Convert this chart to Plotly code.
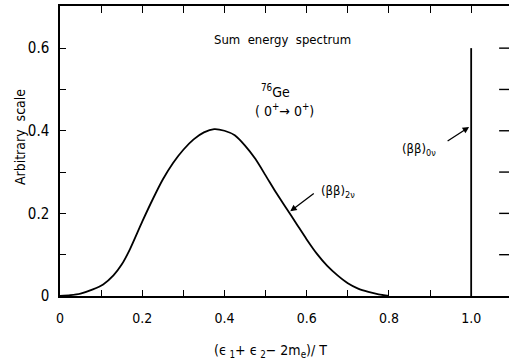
import plotly.graph_objects as go

# 2-neutrino sum energy spectrum
x2nu = [0, 0.025, 0.05, 0.08, 0.105, 0.13, 0.15, 0.17, 0.2, 0.225, 0.25, 0.275, 0.3,
        0.325, 0.35, 0.375, 0.4, 0.425, 0.45, 0.475, 0.5, 0.525, 0.55, 0.575, 0.6,
        0.625, 0.65, 0.675, 0.7, 0.725, 0.75, 0.775, 0.8]
y2nu = [0, 0.002, 0.006, 0.016, 0.028, 0.05, 0.076, 0.113, 0.18, 0.233, 0.282, 0.322, 0.354,
        0.379, 0.396, 0.404, 0.400, 0.389, 0.364, 0.332, 0.292, 0.251, 0.213, 0.175, 0.137,
        0.102, 0.073, 0.050, 0.031, 0.018, 0.010, 0.004, 0.0]
# 0-neutrino line
x0nu = [1.0, 1.0]
y0nu = [0.0, 0.6]

xtick_vals = [0, 0.2, 0.4, 0.6, 0.8, 1.0]
xtick_text = ["0", "0.2", "0.4", "0.6", "0.8", "1.0"]
ytick_vals = [0, 0.2, 0.4, 0.6]
ytick_text = ["0", "0.2", "0.4", "0.6"]
right_tick_vals = [0.1, 0.2, 0.3, 0.4, 0.5, 0.6]
top_tick_vals = [0.1, 0.2, 0.3, 0.4, 0.5, 0.6, 0.7, 0.8, 0.9, 1.0]

XR = [0, 1.092]
YR = [0, 0.702]
FONT = "Liberation Sans Narrow, DejaVu Sans Condensed, Arial Narrow, sans-serif"

fig = go.Figure()
fig.add_trace(go.Scatter(x=x2nu, y=y2nu, mode="lines",
                         line=dict(color="black", width=1.8, shape="spline", smoothing=0.6),
                         showlegend=False, hoverinfo="skip"))
fig.add_trace(go.Scatter(x=x0nu, y=y0nu, mode="lines", line=dict(color="black", width=1.8),
                         showlegend=False, hoverinfo="skip"))
# invisible trace to anchor the top mirror axis
fig.add_trace(go.Scatter(x=[0.5], y=[0.3], xaxis="x2", yaxis="y", mode="markers",
                         marker=dict(opacity=0), showlegend=False, hoverinfo="skip"))

fig.update_layout(
    width=509, height=362,
    margin=dict(l=60, r=0, t=6, b=66),
    plot_bgcolor="white", paper_bgcolor="white",
    font=dict(family=FONT, size=14, color="black"),
    xaxis=dict(range=XR, showline=True, linecolor="black", linewidth=1.5, mirror=False,
               showgrid=False, zeroline=False, tickvals=xtick_vals, ticktext=xtick_text,
               ticks="inside", ticklen=6, tickwidth=1.3, tickcolor="black",
               minor=dict(dtick=0.1, tick0=0, ticks="inside", ticklen=6, tickwidth=1.3,
                          tickcolor="black", showgrid=False),
               tickfont=dict(size=14), ticklabelstandoff=8),
    yaxis=dict(range=YR, showline=True, linecolor="black", linewidth=1.5, mirror=False,
               showgrid=False, zeroline=False, tickvals=ytick_vals, ticktext=ytick_text,
               ticks="inside", ticklen=6, tickwidth=1.3, tickcolor="black",
               minor=dict(dtick=0.1, tick0=0, ticks="inside", ticklen=6, tickwidth=1.3,
                          tickcolor="black", showgrid=False),
               tickfont=dict(size=15), ticklabelstandoff=6),
    xaxis2=dict(range=XR, overlaying="x", side="top", anchor="y", showline=True, linecolor="black",
                linewidth=1.5, showgrid=False, zeroline=False, showticklabels=False,
                tickmode="array", tickvals=top_tick_vals, ticks="inside", ticklen=7, tickwidth=1.3,
                tickcolor="black"),
)

# inward ticks near the right edge of the frame (right spine lies just off the picture)
for v in right_tick_vals:
    fig.add_shape(type="line", xref="x", yref="y", x0=1.068, x1=1.092, y0=v, y1=v,
                  line=dict(color="black", width=1.4), layer="above")

ann = []
ann.append(dict(x=0.540, y=0.620, text="Sum  energy  spectrum", showarrow=False,
                font=dict(size=13, family=FONT)))
ann.append(dict(x=0.523, y=0.497, text="<sup>76</sup>Ge", showarrow=False, font=dict(size=14, family=FONT)))
ann.append(dict(x=0.547, y=0.450, text="( 0<sup>+</sup>→ 0<sup>+</sup>)", showarrow=False,
                font=dict(size=14, family=FONT)))
ann.append(dict(x=0.872, y=0.355, text="(ββ)<sub>0ν</sub>", showarrow=False, font=dict(size=13, family=FONT)))
ann.append(dict(x=0.995, y=0.409, ax=-23, ay=15, text="", showarrow=True, arrowhead=2, arrowsize=1,
                arrowwidth=1.3, arrowcolor="black"))
ann.append(dict(x=0.676, y=0.252, text="(ββ)<sub>2ν</sub>", showarrow=False, font=dict(size=13, family=FONT)))
ann.append(dict(x=0.560, y=0.205, ax=25, ay=-19, text="", showarrow=True, arrowhead=2, arrowsize=1,
                arrowwidth=1.3, arrowcolor="black"))
for a in ann:
    a["xref"] = "x"
    a["yref"] = "y"
    a["xanchor"] = "center"
    a["yanchor"] = "middle"
# axis titles placed in paper coordinates
ann.append(dict(x=0.468, y=-0.188, xref="paper", yref="paper", xanchor="center", yanchor="middle",
                text="(ϵ<sub> 1</sub>+ ϵ<sub> 2</sub>− 2m<sub>e</sub>)/ T", showarrow=False,
                font=dict(size=14, family=FONT)))
ann.append(dict(x=-0.089, y=0.548, xref="paper", yref="paper", xanchor="center", yanchor="middle",
                text="Arbitrary  scale", textangle=-90, showarrow=False, font=dict(size=14, family=FONT)))
fig.update_layout(annotations=ann)

fig.write_html("out.html", config={"displayModeBar": False},
               post_script="document.body.style.margin='0';document.body.style.overflow='hidden';")
